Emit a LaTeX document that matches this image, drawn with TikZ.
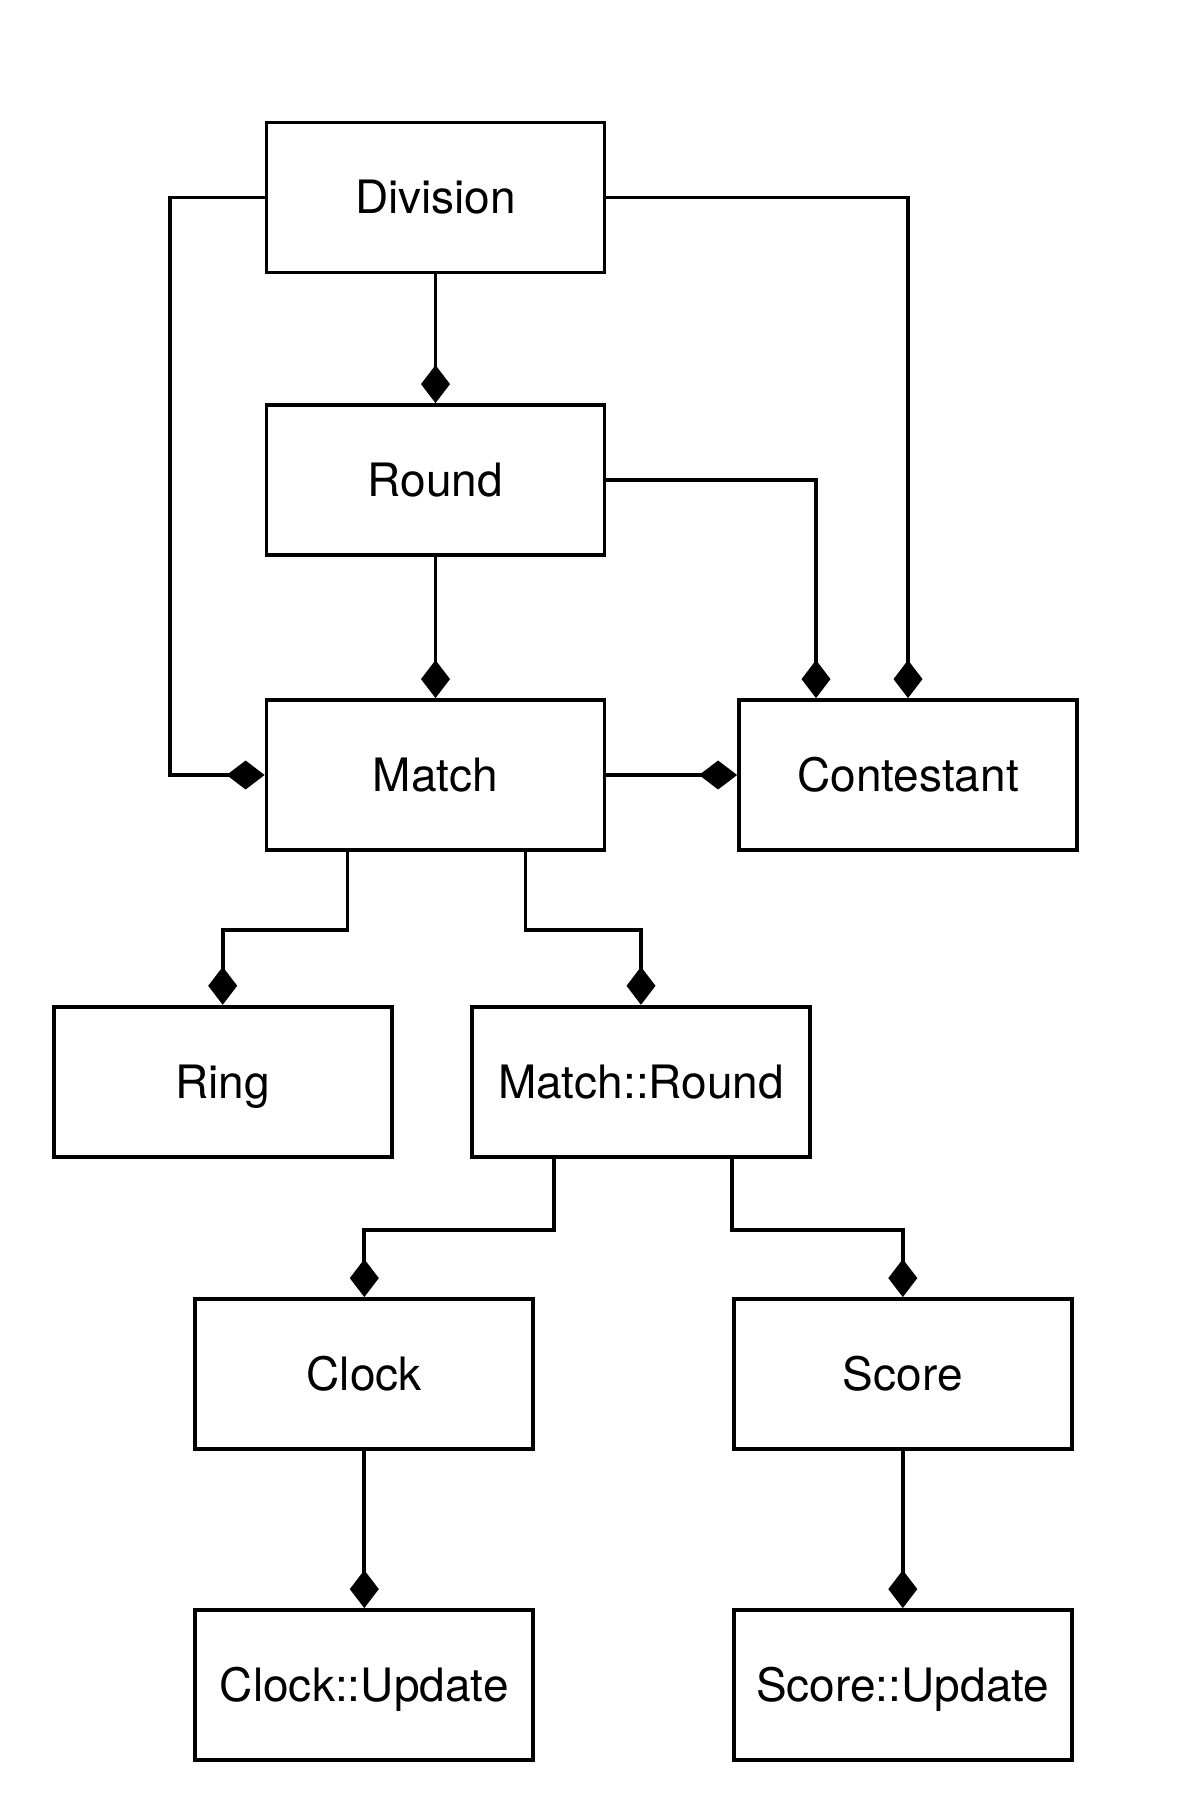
\documentclass[tikz,border=0pt]{standalone}
\usepackage{fontspec}
\setmainfont{TeX Gyre Heros}
\usetikzlibrary{positioning,arrows.meta}

\begin{document}
\begin{tikzpicture}[
  x=0.5pt, y=-0.5pt,
  font=\fontsize{23}{27}\selectfont,
  classbox/.style={draw=black, line width=1.9pt, minimum width=169pt, minimum height=75pt, inner sep=0pt, text height=16.5pt, text depth=0pt},
  comp/.style={-{Diamond[length=19pt,width=14.5pt]}, draw=black, line width=1.9pt}
]
  \useasboundingbox (0,0) rectangle (1195,1808);

  \node[classbox] (division) at (435.5,197.5) {Division};
  \node[classbox] (round) at (435.5,480) {Round};
  \node[classbox] (match) at (435.5,775) {Match};
  \node[classbox] (contestant) at (908,775) {Contestant};
  \node[classbox] (ring) at (222.7,1081.7) {Ring};
  \node[classbox] (mround) at (641,1081.7) {Match::Round};
  \node[classbox] (clock) at (364.3,1374) {Clock};
  \node[classbox] (score) at (902.8,1374) {Score};
  \node[classbox] (clockupd) at (364.3,1685) {Clock::Update};
  \node[classbox] (scoreupd) at (902.8,1685) {Score::Update};

  % upper part
  \draw[comp] (division) -- (round);
  \draw[comp] (round) -- (match);
  \draw[comp] (division.west) -- ++(-95,0) |- (match.west);
  \draw[comp] (division.east) -| (contestant.north);
  \draw[comp] (round.east) -| ([xshift=-46pt]contestant.north);
  \draw[comp] (match) -- (contestant);

  % lower part
  \draw[comp] ([xshift=-44pt]match.south) -- ++(0,78) -| (ring.north);
  \draw[comp] ([xshift=45pt]match.south) -- ++(0,78) -| (mround.north);
  \draw[comp] ([xshift=-43.5pt]mround.south) -- ++(0,71) -| (clock.north);
  \draw[comp] ([xshift=45.5pt]mround.south) -- ++(0,71) -| (score.north);
  \draw[comp] (clock) -- (clockupd);
  \draw[comp] (score) -- (scoreupd);
\end{tikzpicture}
\end{document}
